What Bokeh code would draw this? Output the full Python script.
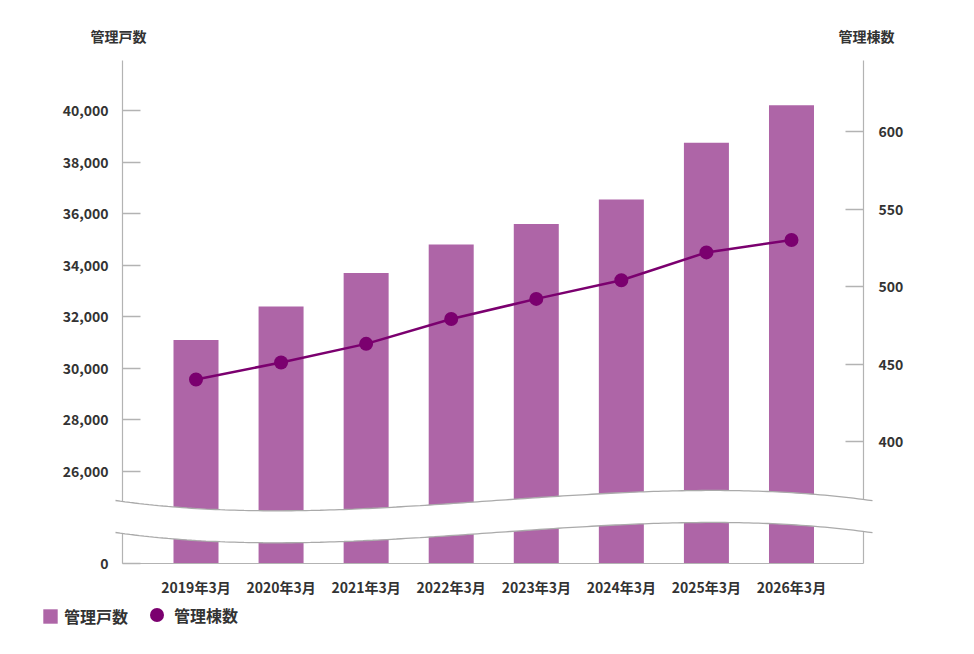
import numpy as np
from bokeh.plotting import figure
from bokeh.models import (Range1d, LinearAxis, FixedTicker, NumeralTickFormatter,
                          Label, Legend, LegendItem)
from bokeh.embed import file_html
from bokeh.resources import INLINE

# ---- data ---------------------------------------------------------------
periods = ["2019年3月", "2020年3月", "2021年3月", "2022年3月",
           "2023年3月", "2024年3月", "2025年3月", "2026年3月"]
households = [31100, 32400, 33700, 34800, 35600, 36550, 38750, 40200]   # 管理戸数
buildings = [440, 451, 463, 479, 492, 504, 522, 530]                    # 管理棟数
left_ticks = [26000, 28000, 30000, 32000, 34000, 36000, 38000, 40000]
right_ticks = [400, 450, 500, 550, 600]

# ---- canvas geometry (the frame covers the whole canvas) ----------------
W, H = 974, 654
X0_PX, STEP = 195.5, 85.07            # first category centre, category pitch
K_L = 14000 / 361                     # left-axis units per pixel
K_R = 200 / 310                       # right-axis units per pixel


def to_x(px):
    return (px - X0_PX) / STEP


def to_yl(py):
    return 40000 - (py - 110) * K_L


def to_yr(py):
    return 600 - (py - 131) * K_R


BASE = round(to_yl(563))              # baseline drawn as "0" below the break

FONT = "Noto Sans CJK JP"
TEXT = "#333333"
GREY = "#b3b3b3"
BAR = "#ae65a7"
LINE = "#7b006f"

p = figure(width=W, height=H, output_backend="svg", toolbar_location=None,
           title=None, min_border=0, x_axis_location=None, y_axis_location=None,
           x_range=Range1d(to_x(0), to_x(W)),
           y_range=Range1d(to_yl(H), to_yl(0)))
p.extra_y_ranges = {"right": Range1d(to_yr(H), to_yr(0))}
p.outline_line_color = None
p.background_fill_color = "white"
p.border_fill_color = "white"
p.grid.visible = False


def style_axis(ax):
    ax.axis_line_color = GREY
    ax.axis_line_width = 1.2
    ax.major_tick_line_color = GREY
    ax.major_tick_line_width = 1.5
    ax.minor_tick_line_color = None
    ax.major_label_text_font = FONT
    ax.major_label_text_font_size = "14px"
    ax.major_label_text_font_style = "bold"
    ax.major_label_text_color = TEXT


# left axis: 管理戸数
ax_l = LinearAxis(fixed_location=to_x(122), bounds=(BASE, to_yl(60)),
                  ticker=FixedTicker(ticks=[BASE] + left_ticks),
                  formatter=NumeralTickFormatter(format="0,0"),
                  major_label_overrides={BASE: "0"})
style_axis(ax_l)
ax_l.major_tick_in = 18
ax_l.major_tick_out = 0
ax_l.major_label_standoff = 14
p.add_layout(ax_l, "left")

# right axis: 管理棟数
ax_r = LinearAxis(y_range_name="right", fixed_location=to_x(863),
                  bounds=(to_yr(563), to_yr(60)),
                  ticker=FixedTicker(ticks=right_ticks))
style_axis(ax_r)
ax_r.major_tick_in = 18
ax_r.major_tick_out = 0
ax_r.major_label_standoff = 15
p.add_layout(ax_r, "right")

# category axis along the baseline
ax_b = LinearAxis(fixed_location=BASE, bounds=(to_x(122), to_x(863)),
                  ticker=FixedTicker(ticks=list(range(len(periods)))),
                  major_label_overrides={i: s for i, s in enumerate(periods)})
style_axis(ax_b)
ax_b.major_tick_line_color = None
ax_b.major_tick_in = 0
ax_b.major_tick_out = 0
ax_b.major_label_standoff = 13
p.add_layout(ax_b, "below")

# bars and line
xs = list(range(len(periods)))
bars = p.vbar(x=xs, top=households, bottom=BASE, width=45 / STEP,
              fill_color=BAR, line_color=None)
p.line(x=xs, y=buildings, y_range_name="right", line_color=LINE, line_width=2.5)
dots = p.scatter(x=xs, y=buildings, y_range_name="right", size=14,
                 fill_color=LINE, line_color=None)

# wavy break band across the lower part of the chart
wave_x = [115, 225, 290, 400, 600, 705, 780, 872]
wave_y = [500, 509, 511, 506, 493, 490, 492, 500]
coef = np.polyfit(wave_x, wave_y, 3)
bx = np.linspace(115, 872, 160)
top_py = np.polyval(coef, bx)
bot_py = top_py + 32
band_x = [to_x(v) for v in np.concatenate([bx, bx[::-1]])]
band_y = [to_yl(v) for v in np.concatenate([top_py, bot_py[::-1]])]
p.patch(x=band_x, y=band_y, fill_color="white", line_color=None, level="overlay")
for edge in (top_py, bot_py):
    p.line(x=[to_x(v) for v in bx], y=[to_yl(v) for v in edge],
           line_color="#aaaaaa", line_width=1.3, level="overlay")

# axis titles
for txt, cx in (("管理戸数", 118), ("管理棟数", 866)):
    p.add_layout(Label(x=cx, y=H - 35, x_units="screen", y_units="screen",
                       text=txt, text_align="center", text_baseline="middle",
                       text_font=FONT, text_font_size="14px",
                       text_font_style="bold", text_color=TEXT))


# legends (location is the lower-left corner, in pixels from the bottom)
def make_legend(label, renderer, loc, glyph, standoff):
    return Legend(items=[LegendItem(label=label, renderers=[renderer])],
                  location=loc, glyph_width=glyph, glyph_height=glyph,
                  padding=0, margin=0, border_line_color=None,
                  background_fill_alpha=0, label_standoff=standoff,
                  label_text_font=FONT, label_text_font_size="16px",
                  label_text_font_style="bold", label_text_color=TEXT,
                  label_height=14)


p.add_layout(make_legend("管理戸数", bars, (41, 26), 18, 5))
p.add_layout(make_legend("管理棟数", dots, (139, 22), 35, 0))

open("out.html", "w").write(file_html(p, INLINE))
